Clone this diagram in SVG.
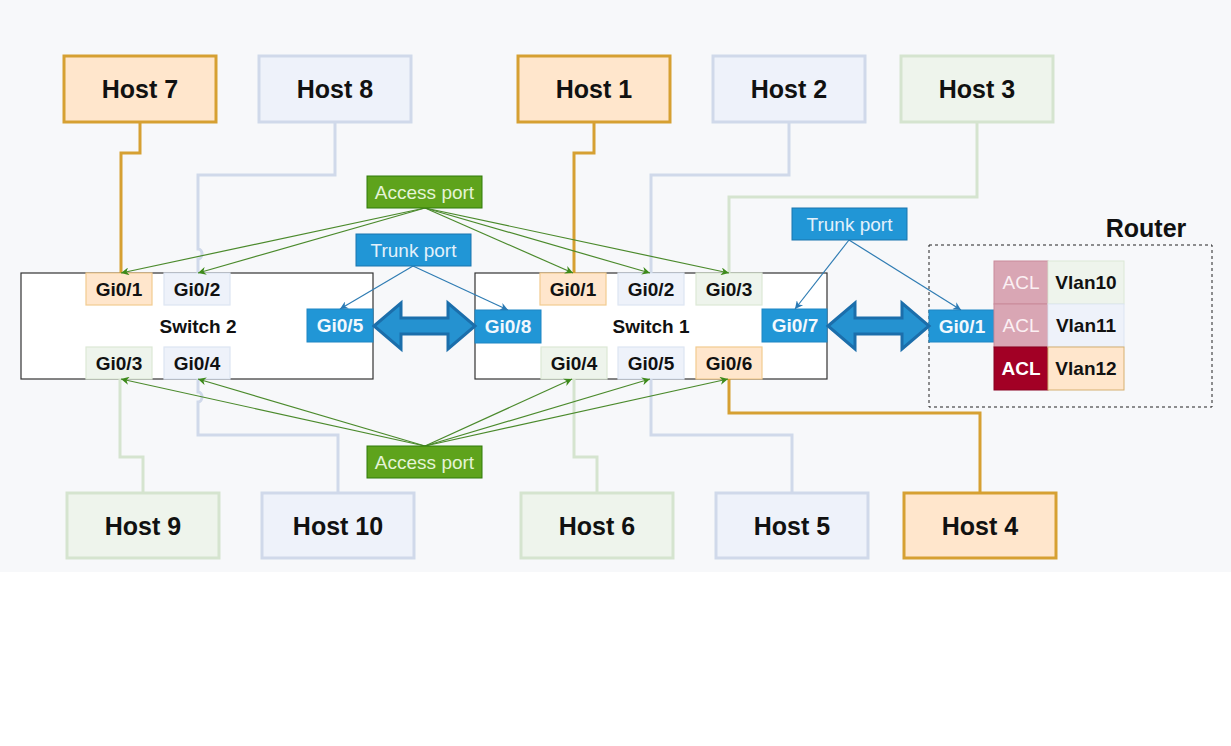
<svg xmlns="http://www.w3.org/2000/svg" width="1231" height="746" viewBox="0 0 1231 746">
<defs>
<style>
.bg{fill:#f7f8fa}
.host{stroke-width:3}
.hO{fill:#ffe6cc;stroke:#d6a032}
.hB{fill:#eef2fa;stroke:#d0d9ea}
.hG{fill:#eef4ec;stroke:#d5e4cf}
.ht{font-family:"Liberation Sans",Arial,sans-serif;font-weight:bold;font-size:25px;fill:#111;text-anchor:middle}
.sw{fill:#fff;stroke:#333;stroke-width:1.2}
.pt{font-family:"Liberation Sans",Arial,sans-serif;font-weight:bold;font-size:19px;fill:#111;text-anchor:middle}
.pO{fill:#ffe6cc;stroke:#f2cb8f;stroke-width:1.2}
.pB{fill:#eef2fa;stroke:#dde5f2;stroke-width:1.2}
.pG{fill:#eef4ec;stroke:#dce8d6;stroke-width:1.2}
.pX{fill:#2196d6;stroke:#1f86c4;stroke-width:1}
.wt{font-family:"Liberation Sans",Arial,sans-serif;font-weight:bold;font-size:19px;fill:#f2f8fd;text-anchor:middle}
.acc{fill:#5ea31c;stroke:#2f7a08;stroke-width:1}
.acct{font-family:"Liberation Sans",Arial,sans-serif;font-size:19px;fill:#e4f3d6;text-anchor:middle}
.trk{fill:#2196d6;stroke:#1a74ad;stroke-width:1}
.trkt{font-family:"Liberation Sans",Arial,sans-serif;font-size:19px;fill:#e3f1fb;text-anchor:middle}
.dbl{fill:#2592d0;stroke:#1b6eab;stroke-width:3;stroke-linejoin:miter}
.lO{fill:none;stroke:#d6a032;stroke-width:3}
.lB{fill:none;stroke:#d0d9ea;stroke-width:3}
.lG{fill:none;stroke:#d5e4cf;stroke-width:3}
.ag{fill:none;stroke:#4b8a2c;stroke-width:1.2}
.ab{fill:none;stroke:#2f7cb3;stroke-width:1.2}
</style>
<marker id="mg" viewBox="0 0 10 10" refX="10" refY="5" markerWidth="10" markerHeight="8" markerUnits="userSpaceOnUse" orient="auto">
<path d="M0,0 L10,5 L0,10 L3,5 Z" fill="#3d8a1a"/>
</marker>
<marker id="mb" viewBox="0 0 10 10" refX="10" refY="5" markerWidth="10" markerHeight="8" markerUnits="userSpaceOnUse" orient="auto">
<path d="M0,0 L10,5 L0,10 L3,5 Z" fill="#2a7ab5"/>
</marker>
</defs>

<rect x="0" y="0" width="1231" height="746" fill="#ffffff"/>
<rect class="bg" x="0" y="0" width="1231" height="572"/>

<!-- hosts -->
<g id="host7"><rect class="host hO" x="64" y="56" width="152" height="66"/><text class="ht" x="140" y="98">Host 7</text></g>
<g id="host8"><rect class="host hB" x="259" y="56" width="152" height="66"/><text class="ht" x="335" y="98">Host 8</text></g>
<g id="host1"><rect class="host hO" x="518" y="56" width="152" height="66"/><text class="ht" x="594" y="98">Host 1</text></g>
<g id="host2"><rect class="host hB" x="713" y="56" width="152" height="66"/><text class="ht" x="789" y="98">Host 2</text></g>
<g id="host3"><rect class="host hG" x="901" y="56" width="152" height="66"/><text class="ht" x="977" y="98">Host 3</text></g>
<g id="host9"><rect class="host hG" x="67" y="493" width="152" height="65"/><text class="ht" x="143" y="535">Host 9</text></g>
<g id="host10"><rect class="host hB" x="262" y="493" width="152" height="65"/><text class="ht" x="338" y="535">Host 10</text></g>
<g id="host6"><rect class="host hG" x="521" y="493" width="152" height="65"/><text class="ht" x="597" y="535">Host 6</text></g>
<g id="host5"><rect class="host hB" x="716" y="493" width="152" height="65"/><text class="ht" x="792" y="535">Host 5</text></g>
<g id="host4"><rect class="host hO" x="904" y="493" width="152" height="65"/><text class="ht" x="980" y="535">Host 4</text></g>

<!-- switch 2 -->
<g id="switch2">
<rect class="sw" x="21" y="273" width="352" height="106"/>
<text class="pt" x="198" y="332.5">Switch 2</text>
<rect class="pO" x="86" y="273" width="66" height="32"/><text class="pt" x="119" y="295.5">Gi0/1</text>
<rect class="pB" x="164" y="273" width="66" height="32"/><text class="pt" x="197" y="295.5">Gi0/2</text>
<rect class="pG" x="86" y="347" width="66" height="32"/><text class="pt" x="119" y="369.5">Gi0/3</text>
<rect class="pB" x="164" y="347" width="66" height="32"/><text class="pt" x="197" y="369.5">Gi0/4</text>
<rect class="pX" x="307" y="309" width="66" height="33"/><text class="wt" x="340" y="332">Gi0/5</text>
</g>

<!-- switch 1 -->
<g id="switch1">
<rect class="sw" x="475" y="273" width="352" height="106"/>
<text class="pt" x="651" y="332.5">Switch 1</text>
<rect class="pO" x="540" y="273" width="66" height="32"/><text class="pt" x="573" y="295.5">Gi0/1</text>
<rect class="pB" x="618" y="273" width="66" height="32"/><text class="pt" x="651" y="295.5">Gi0/2</text>
<rect class="pG" x="696" y="273" width="66" height="32"/><text class="pt" x="729" y="295.5">Gi0/3</text>
<rect class="pG" x="541" y="347" width="66" height="32"/><text class="pt" x="574" y="369.5">Gi0/4</text>
<rect class="pB" x="618" y="347" width="66" height="32"/><text class="pt" x="651" y="369.5">Gi0/5</text>
<rect class="pO" x="696" y="347" width="66" height="32"/><text class="pt" x="729" y="369.5">Gi0/6</text>
<rect class="pX" x="475" y="310" width="66" height="33"/><text class="wt" x="508" y="333">Gi0/8</text>
<rect class="pX" x="762" y="309" width="65" height="33"/><text class="wt" x="795" y="332">Gi0/7</text>
</g>

<!-- router -->
<g id="router">
<rect x="929" y="245" width="283" height="162" fill="none" stroke="#222" stroke-width="1" stroke-dasharray="3,3"/>
<text class="ht" x="1146" y="237">Router</text>
<rect class="pX" x="929" y="310" width="65" height="32"/><text class="wt" x="962" y="332.5">Gi0/1</text>
<rect x="994" y="261" width="54" height="43" fill="#d9a6b4" stroke="#c98a9a" stroke-width="1"/>
<rect x="994" y="304" width="54" height="43" fill="#d9a6b4" stroke="#c98a9a" stroke-width="1"/>
<rect x="994" y="347" width="54" height="43" fill="#a20025" stroke="#8a0020" stroke-width="1"/>
<rect x="1048" y="261" width="76" height="43" fill="#eef4ec" stroke="#dce8d6" stroke-width="1"/>
<rect x="1048" y="304" width="76" height="43" fill="#eef2fa" stroke="#dde5f2" stroke-width="1"/>
<rect x="1048" y="347" width="76" height="43" fill="#ffe6cc" stroke="#d6b070" stroke-width="1"/>
<text x="1021" y="289" font-family="Liberation Sans,Arial,sans-serif" font-size="19" fill="#fbf0f3" text-anchor="middle">ACL</text>
<text x="1021" y="332" font-family="Liberation Sans,Arial,sans-serif" font-size="19" fill="#fbf0f3" text-anchor="middle">ACL</text>
<text x="1021" y="375" font-family="Liberation Sans,Arial,sans-serif" font-size="19" font-weight="bold" fill="#ffffff" text-anchor="middle">ACL</text>
<text class="pt" x="1086" y="289">Vlan10</text>
<text class="pt" x="1086" y="332">Vlan11</text>
<text class="pt" x="1086" y="375">Vlan12</text>
</g>

<!-- connectors -->
<g id="connectors">
<!-- host links top -->
<path class="lO" d="M140,122 V153 H121 V273"/>
<path class="lB" d="M335,122 V175 H198 V249 a4,5 0 0 1 0,10 V273"/>
<path class="lO" d="M594,122 V153 H574 V273"/>
<path class="lB" d="M789,122 V175 H651 V273"/>
<path class="lG" d="M977,122 V197 H729 V273"/>
<!-- host links bottom -->
<path class="lG" d="M143,493 V457 H120 V379"/>
<path class="lB" d="M338,493 V435 H198 V402 a4,5 0 0 0 0,-10 V379"/>
<path class="lG" d="M597,493 V457 H574 V379"/>
<path class="lB" d="M792,493 V435 H651 V379"/>
<path class="lO" d="M980,493 V413 H729 V379"/>
<!-- access arrows top -->
<line class="ag" x1="425" y1="208" x2="121" y2="273" marker-end="url(#mg)"/>
<line class="ag" x1="425" y1="208" x2="198" y2="273" marker-end="url(#mg)"/>
<line class="ag" x1="425" y1="208" x2="573" y2="273" marker-end="url(#mg)"/>
<line class="ag" x1="425" y1="208" x2="650" y2="273" marker-end="url(#mg)"/>
<line class="ag" x1="425" y1="208" x2="729" y2="273" marker-end="url(#mg)"/>
<!-- access arrows bottom -->
<line class="ag" x1="425" y1="446" x2="121" y2="379" marker-end="url(#mg)"/>
<line class="ag" x1="425" y1="446" x2="198" y2="379" marker-end="url(#mg)"/>
<line class="ag" x1="425" y1="446" x2="572" y2="379" marker-end="url(#mg)"/>
<line class="ag" x1="425" y1="446" x2="650" y2="379" marker-end="url(#mg)"/>
<line class="ag" x1="425" y1="446" x2="728" y2="379" marker-end="url(#mg)"/>
<!-- trunk arrows -->
<line class="ab" x1="413" y1="266" x2="340" y2="309" marker-end="url(#mb)"/>
<line class="ab" x1="413" y1="266" x2="508" y2="310" marker-end="url(#mb)"/>
<line class="ab" x1="849" y1="240" x2="795" y2="309" marker-end="url(#mb)"/>
<line class="ab" x1="849" y1="240" x2="961" y2="310" marker-end="url(#mb)"/>
<!-- double arrows -->
<path class="dbl" d="M374,326 L401,303 L401,318 L448,318 L448,303 L475,326 L448,349 L448,334 L401,334 L401,349 Z"/>
<path class="dbl" d="M828,326 L855,303 L855,318 L902,318 L902,303 L929,326 L902,349 L902,334 L855,334 L855,349 Z"/>
</g>

<!-- labels -->
<g id="access-top"><rect class="acc" x="367" y="176" width="115" height="32"/><text class="acct" x="424.5" y="198.5">Access port</text></g>
<g id="access-bottom"><rect class="acc" x="367" y="446" width="115" height="32"/><text class="acct" x="424.5" y="468.5">Access port</text></g>
<g id="trunk-left"><rect class="trk" x="356" y="234" width="115" height="32"/><text class="trkt" x="413.5" y="256.5">Trunk port</text></g>
<g id="trunk-right"><rect class="trk" x="792" y="208" width="115" height="32"/><text class="trkt" x="849.5" y="230.5">Trunk port</text></g>
</svg>
